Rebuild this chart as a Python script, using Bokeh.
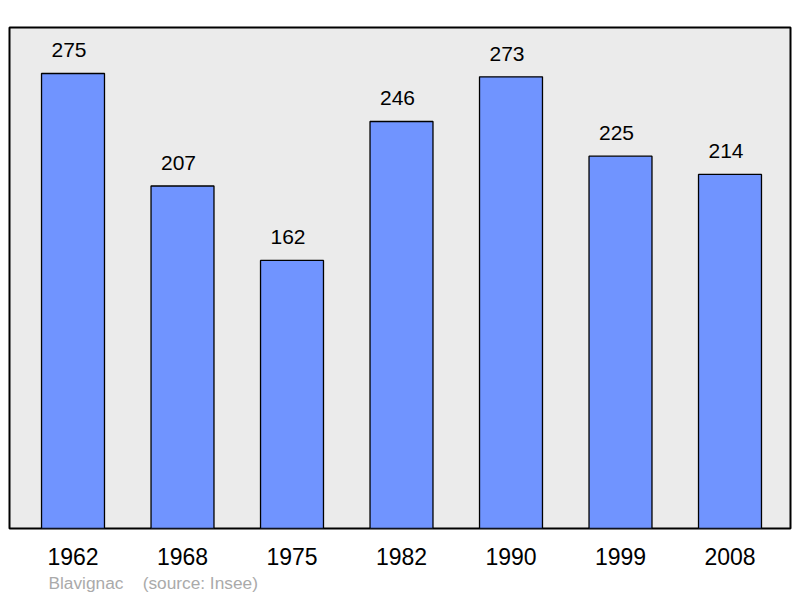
from bokeh.plotting import figure
from bokeh.models import ColumnDataSource, Range1d, Title
from bokeh.core.properties import value
from bokeh.embed import file_html
from bokeh.resources import INLINE

years = ["1962", "1968", "1975", "1982", "1990", "1999", "2008"]
population = [275, 207, 162, 246, 273, 225, 214]
commune = "Blavignac"
source_note = "(source: Insee)"
caption = commune + " \u00a0\u00a0\u00a0" + source_note

idx = list(range(len(years)))
src = ColumnDataSource(dict(x=idx, top=population, lab=[str(v) for v in population]))

p = figure(width=800, height=598, output_backend="svg", toolbar_location=None,
           x_range=Range1d(-0.58, 6.5525), y_range=Range1d(0, 302.8),
           min_border_left=9, min_border_right=10, min_border_top=27, min_border_bottom=70)
p.background_fill_color = "#ebebeb"
p.border_fill_color = "white"
p.outline_line_color = "black"
p.outline_line_width = 2
p.grid.visible = False
p.yaxis.visible = False

p.vbar(x="x", top="top", bottom=0, width=0.575, source=src,
       fill_color="#7094ff", line_color="black", line_width=1.3)
p.text(x="x", y="top", text="lab", source=src, text_align="center",
       text_baseline="alphabetic", y_offset=-23, x_offset=-4, text_font=value("Liberation Sans"),
       text_font_size="21px", text_color="black")

ax = p.xaxis[0]
ax.ticker = idx
ax.major_label_overrides = {i: y for i, y in zip(idx, years)}
ax.axis_line_color = None
ax.major_tick_line_color = None
ax.minor_tick_line_color = None
ax.major_tick_out = 0
ax.major_label_standoff = 19
ax.major_label_text_font = "Liberation Sans"
ax.major_label_text_font_size = "23px"
ax.major_label_text_color = "black"

p.add_layout(Title(text=caption, align="left", offset=39, text_font="Liberation Sans",
                   text_font_size="17.3px", text_font_style="normal", text_color="#aaaaaa",
                   standoff=7), "below")

open("out.html", "w").write(file_html(p, INLINE))
